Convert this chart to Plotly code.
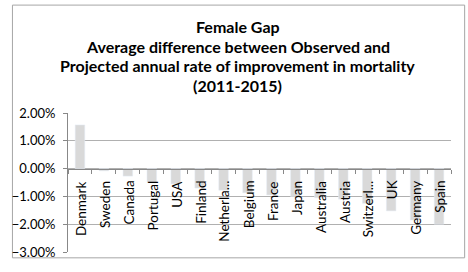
import plotly.graph_objects as go

countries = ["Denmark", "Sweden", "Canada", "Portugal", "USA", "Finland", "Netherla...",
             "Belgium", "France", "Japan", "Australia", "Austria", "Switzerl...", "UK",
             "Germany", "Spain"]
gap = [0.0157, -0.0008, -0.0027, -0.0050, -0.0055, -0.0070, -0.0078,
       -0.0087, -0.0095, -0.0100, -0.0105, -0.0110, -0.0125, -0.0152,
       -0.0185, -0.0200]
title_lines = ["Female Gap", "Average difference between Observed and",
               "Projected annual rate of improvement in mortality", "(2011-2015)"]
y_ticks = [0.02, 0.01, 0.0, -0.01, -0.02, -0.03]

W, H = 468, 272
ml, mr, mt, mb = 58, 17, 113, 16
pw, ph = W - ml - mr, H - mt - mb

def px_x(x):
    return (x - ml) / pw

def px_y(y):
    return (H - mb - y) / ph

fig = go.Figure()
fig.add_trace(go.Bar(x=countries, y=gap, marker_color="#d9d9d9", width=0.4,
                     hoverinfo="x+y"))

font = "Lato, 'Open Sans', sans-serif"
for c in countries:
    fig.add_annotation(x=c, y=0, text=c, textangle=-90, showarrow=False,
                       xanchor="center", yanchor="top", yshift=-10, xshift=1,
                       font=dict(family=font, size=13.5, color="#000000"))

for i, line in enumerate(title_lines):
    fig.add_annotation(xref="paper", yref="paper", x=px_x(232), y=px_y(24 + 20.3 * i),
                       text="<b>" + line + "</b>", showarrow=False,
                       xanchor="center", yanchor="middle",
                       font=dict(family=font, size=16, color="#000000"))

# outer border
fig.add_shape(type="rect", xref="paper", yref="paper",
              x0=px_x(1), x1=px_x(465), y0=px_y(262), y1=px_y(2),
              line=dict(color="#a6a6a6", width=1), fillcolor="rgba(0,0,0,0)", layer="below")

fig.update_layout(
    width=W, height=H, margin=dict(l=ml, r=mr, t=mt, b=mb),
    paper_bgcolor="white", plot_bgcolor="white", showlegend=False,
    font=dict(family=font, size=12, color="#000000"),
    xaxis=dict(type="category", anchor="free", position=3 / 5, showticklabels=False,
               showline=True, linecolor="#888888", linewidth=1, ticks="outside",
               tickson="boundaries", ticklen=4, tickcolor="#888888", showgrid=False,
               zeroline=False),
    yaxis=dict(range=[-0.03, 0.02], tickvals=y_ticks, tickformat=".2%",
               showgrid=True, gridcolor="#b0b0b0", gridwidth=1, zeroline=False,
               showline=True, linecolor="#888888", ticks="outside", ticklen=4,
               tickcolor="#888888", ticklabelstandoff=5,
               tickfont=dict(family=font, size=13, color="#000000")),
)

fig.write_html("out.html")
